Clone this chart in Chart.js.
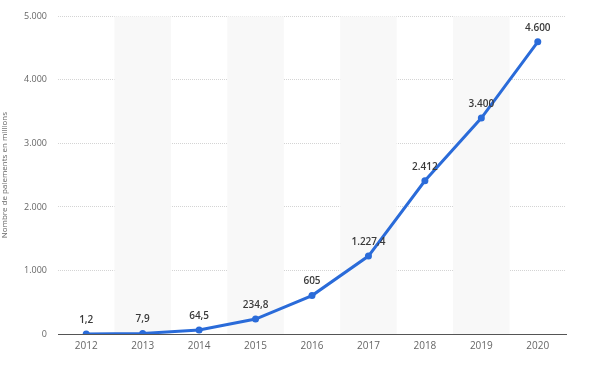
<!DOCTYPE html>
<html><head><meta charset="utf-8">
<script src="https://cdn.jsdelivr.net/npm/chart.js@4"></script>
<style>html,body{margin:0;padding:0;background:#fff}#w{width:592px;height:374px}</style>
</head><body><div id="w"><canvas id="c" width="592" height="374"></canvas></div>
<script>
const years = ['2012','2013','2014','2015','2016','2017','2018','2019','2020'];
const payments = [1.2, 7.9, 64.5, 234.8, 605, 1227.4, 2412, 3400, 4600];
const valueLabels = ['1,2','7,9','64,5','234,8','605','1.227,4','2.412','3.400','4.600'];
const yTicks = [0, 1000, 2000, 3000, 4000, 5000];
const yTitle = 'Nombre de paiements en millions';

const FONT = "'Open Sans', 'DejaVu Sans', sans-serif";

const bands = {
  id: 'bands',
  beforeDatasetsDraw(chart) {
    const {ctx, chartArea, scales:{x}} = chart;
    const step = x.getPixelForValue(1) - x.getPixelForValue(0);
    ctx.save();
    ctx.fillStyle = '#f8f8f8';
    years.forEach((y, i) => {
      if (i % 2 === 1) {
        const c = x.getPixelForValue(i);
        ctx.fillRect(c - step/2, chartArea.top, step, chartArea.bottom - chartArea.top);
      }
    });
    ctx.restore();
  }
};

const dataLabels = {
  id: 'dataLabels',
  afterDatasetsDraw(chart) {
    const {ctx} = chart;
    const meta = chart.getDatasetMeta(0);
    ctx.save();
    ctx.font = "600 10px " + FONT;
    ctx.fillStyle = '#3a3a3a';
    ctx.textAlign = 'center';
    ctx.textBaseline = 'bottom';
    meta.data.forEach((pt, i) => {
      ctx.fillText(valueLabels[i], pt.x, pt.y - 9);
    });
    ctx.restore();
  }
};

new Chart(document.getElementById('c'), {
  type: 'line',
  data: {
    labels: years,
    datasets: [{
      data: payments,
      borderColor: '#2a6bd9',
      backgroundColor: '#2a6bd9',
      borderWidth: 3,
      pointRadius: 3.5,
      pointBorderWidth: 0,
      pointHoverRadius: 3.5,
      tension: 0
    }]
  },
  options: {
    responsive: false,
    animation: false,
    events: [],
    layout: { padding: { top: 13, right: 26, left: 0, bottom: 0 } },
    plugins: { legend: { display: false }, tooltip: { enabled: false } },
    scales: {
      x: {
        offset: true,
        grid: { display: false, drawTicks: false },
        border: { display: true, color: '#555', width: 1 },
        ticks: { color: '#666', font: { family: FONT, size: 10 }, padding: 6, maxRotation: 0 },
        afterFit(s) { s.height = 40; }
      },
      y: {
        min: 0, max: 5000,
        afterBuildTicks(s) { s.ticks = yTicks.map(v => ({value: v})); },
        grid: { color: '#d4d4d4', lineWidth: 1, drawTicks: false },
        border: { display: false, dash: [1, 1] },
        ticks: {
          color: '#666', font: { family: FONT, size: 9 }, padding: 11,
          callback: v => v.toLocaleString('de-DE')
        },
        title: { display: true, text: yTitle, color: '#666', font: { family: FONT, size: 8 }, padding: { top: 0, bottom: 2 } },
        afterFit(s) { s.width = 58; }
      }
    }
  },
  plugins: [bands, dataLabels]
});
</script></body></html>
